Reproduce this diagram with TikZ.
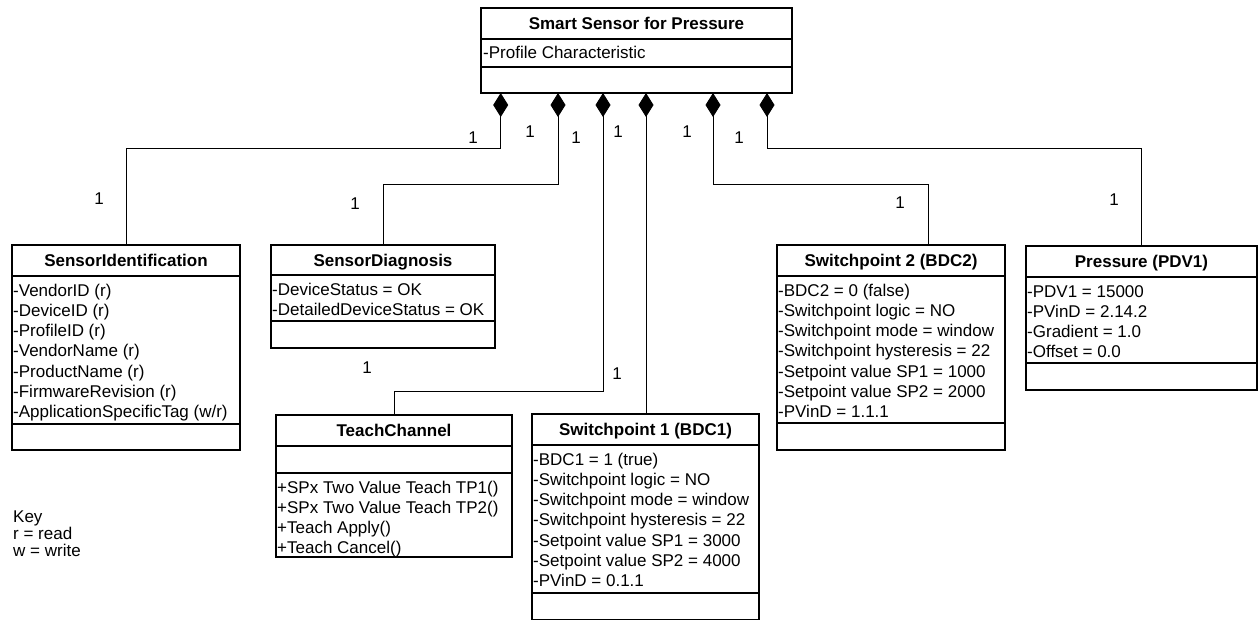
\documentclass[tikz,border=0pt]{standalone}
\usepackage{fontspec}
\setmainfont{Liberation Sans}
\usetikzlibrary{arrows.meta,calc}
\tikzset{
  box/.style={draw, line width=1.2pt, anchor=north west, inner sep=0pt, outer sep=0pt},
  sepline/.style={line width=1.2pt},
  ttl/.style={font=\bfseries\fontsize{17}{20.3}\selectfont, anchor=base, inner sep=0pt},
  attr/.style={font=\fontsize{17}{20.3}\selectfont, anchor=base west, inner sep=0pt},
  mult/.style={font=\fontsize{17}{20.3}\selectfont, inner sep=0pt},
  comp/.style={line width=0.9pt, {Diamond[length=24pt,width=15pt]}-},
}
\begin{document}
\begin{tikzpicture}[x=1pt,y=-1pt]
\useasboundingbox (0,0) rectangle (1258,619);

% ---- Smart Sensor for Pressure
\node[box, minimum width=311pt, minimum height=85pt] (top) at (481,8) {};
\draw[sepline] (top.west |- 0,39) -- (top.east |- 0,39);
\draw[sepline] (top.west |- 0,67) -- (top.east |- 0,67);
\node[ttl] (top-t) at (636.5,29.5) {Smart Sensor for Pressure};
\node[attr] (top-a) at (483,58) {-Profile Characteristic};

% ---- SensorIdentification
\node[box, minimum width=228pt, minimum height=205pt] (si) at (12,245) {};
\draw[sepline] (si.west |- 0,276) -- (si.east |- 0,276);
\draw[sepline] (si.west |- 0,424) -- (si.east |- 0,424);
\node[ttl] (si-t) at (126,266.5) {SensorIdentification};
\foreach \t [count=\i from 0] in {-VendorID (r),-DeviceID (r),-ProfileID (r),-VendorName (r),-ProductName (r),-FirmwareRevision (r),-ApplicationSpecificTag (w/r)}
  \node[attr] (si-a\i) at (13,296+20.3*\i) {\t};

% ---- SensorDiagnosis
\node[box, minimum width=224pt, minimum height=103pt] (sd) at (271,245) {};
\draw[sepline] (sd.west |- 0,275) -- (sd.east |- 0,275);
\draw[sepline] (sd.west |- 0,321) -- (sd.east |- 0,321);
\node[ttl] (sd-t) at (383,266) {SensorDiagnosis};
\foreach \t [count=\i from 0] in {-DeviceStatus = OK,-DetailedDeviceStatus = OK}
  \node[attr] (sd-a\i) at (272,295+20.3*\i) {\t};

% ---- TeachChannel
\node[box, minimum width=236pt, minimum height=142pt] (tc) at (276,415) {};
\draw[sepline] (tc.west |- 0,446) -- (tc.east |- 0,446);
\draw[sepline] (tc.west |- 0,473) -- (tc.east |- 0,473);
\node[ttl] (tc-t) at (394,436.5) {TeachChannel};
\foreach \t [count=\i from 0] in {+SPx Two Value Teach TP1(),+SPx Two Value Teach TP2(),+Teach Apply(),+Teach Cancel()}
  \node[attr] (tc-o\i) at (277,493+20.3*\i) {\t};

% ---- Switchpoint 1
\node[box, minimum width=227pt, minimum height=206pt] (sp1) at (532,414) {};
\draw[sepline] (sp1.west |- 0,445) -- (sp1.east |- 0,445);
\draw[sepline] (sp1.west |- 0,593) -- (sp1.east |- 0,593);
\node[ttl] (sp1-t) at (645.5,435.5) {Switchpoint 1 (BDC1)};
\foreach \t [count=\i from 0] in {-BDC1 = 1 (true),-Switchpoint logic = NO,-Switchpoint mode = window,-Switchpoint hysteresis = 22,-Setpoint value SP1 = 3000,-Setpoint value SP2 = 4000,-PVinD = 0.1.1}
  \node[attr] (sp1-a\i) at (533,465+20.3*\i) {\t};

% ---- Switchpoint 2
\node[box, minimum width=228pt, minimum height=205pt] (sp2) at (777,245) {};
\draw[sepline] (sp2.west |- 0,276) -- (sp2.east |- 0,276);
\draw[sepline] (sp2.west |- 0,423) -- (sp2.east |- 0,423);
\node[ttl] (sp2-t) at (891,266.5) {Switchpoint 2 (BDC2)};
\foreach \t [count=\i from 0] in {-BDC2 = 0 (false),-Switchpoint logic = NO,-Switchpoint mode = window,-Switchpoint hysteresis = 22,-Setpoint value SP1 = 1000,-Setpoint value SP2 = 2000,-PVinD = 1.1.1}
  \node[attr] (sp2-a\i) at (778,296+20.3*\i) {\t};
\coordinate (sp2c) at ($(sp2.north)+(37,0)$);

% ---- Pressure
\node[box, minimum width=231pt, minimum height=144pt] (pr) at (1026,246) {};
\draw[sepline] (pr.west |- 0,277) -- (pr.east |- 0,277);
\draw[sepline] (pr.west |- 0,363) -- (pr.east |- 0,363);
\node[ttl] (pr-t) at (1141.5,267.5) {Pressure (PDV1)};
\foreach \t [count=\i from 0] in {-PDV1 = 15000,-PVinD = 2.14.2,-Gradient = 1.0,-Offset = 0.0}
  \node[attr] (pr-a\i) at (1027,297+20.3*\i) {\t};

% ---- composition connectors
\coordinate (d1) at (500.7,93);
\coordinate (d2) at (558,93);
\coordinate (d3) at (603,93);
\coordinate (d4) at (646,93);
\coordinate (d5) at (713,93);
\coordinate (d6) at (767,93);
\draw[comp] (d1) -- ++(0,55) -| (si.north);
\draw[comp] (d2) -- ++(0,91) -| (sd.north);
\draw[comp] (d3) -- ++(0,298) -| (tc.north);
\draw[comp] (d4) -- (d4 |- sp1.north);
\draw[comp] (d5) -- ++(0,91) -| (sp2c);
\draw[comp] (d6) -- ++(0,55) -| (pr.north);

% ---- multiplicities
\node[mult] (m1) at (473,138) {1};
\node[mult] (m2) at (530,132) {1};
\node[mult] (m3) at (576,138) {1};
\node[mult] (m4) at (618,132) {1};
\node[mult] (m5) at (687,132) {1};
\node[mult] (m6) at (739,138) {1};
\node[mult] (m7) at (99,199) {1};
\node[mult] (m8) at (355,204) {1};
\node[mult] (m9) at (367,368) {1};
\node[mult] (m10) at (617,374) {1};
\node[mult] (m11) at (900,203) {1};
\node[mult] (m12) at (1114,200) {1};

% ---- key
\node[attr] (k1) at (13,522) {Key};
\node[attr] (k2) at (13,539) {r = read};
\node[attr] (k3) at (13,556) {w = write};
\end{tikzpicture}
\end{document}
